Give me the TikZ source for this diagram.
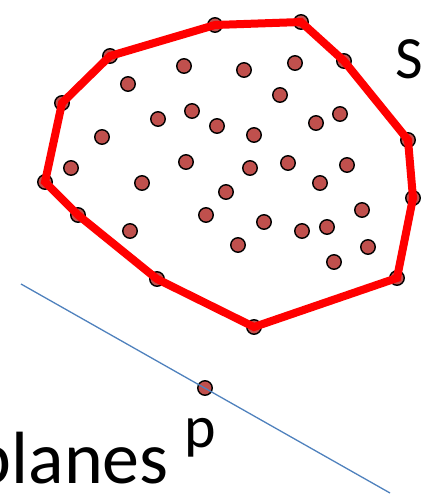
\documentclass[tikz,border=0pt]{standalone}
\usepackage{fontspec}
\setmainfont{Carlito}
\usetikzlibrary{calc}
\definecolor{dotred}{RGB}{192,80,77}
\definecolor{lineblue}{RGB}{79,129,189}
\tikzset{
  pt/.style={circle, draw=black, line width=1.4pt, fill=dotred, minimum size=14.5pt, inner sep=0pt},
  hull/.style={draw=red, line width=8pt},
  sep/.style={draw=lineblue, line width=1.3pt},
  lbl/.style={font=\fontsize{60}{60}\selectfont, inner sep=0pt},
}
\begin{document}
\begin{tikzpicture}[x=1pt,y=-1pt]
\useasboundingbox (0,0) rectangle (439,498);
% points of S inside the hull
\foreach \x/\y in {128/84, 184/66, 244/70, 295/63, 280/95, 192/111, 158/119, 217/126,
  254/135, 316/123, 340/114, 102/137, 186/162, 250/168, 288/163, 347/165, 71/168,
  142/183, 226/192, 320/183, 206/215, 362/210, 130/231, 264/222, 302/231, 327/227,
  238/245, 368/247, 334/262}
  \node[pt] at (\x,\y) {};
% hull vertices
\foreach \n/\x/\y in {1/110/56, 2/215/25, 3/301/22, 4/344/61, 5/408/140, 6/413/198,
  7/397/278, 8/254/327, 9/157/279, 10/78/215, 11/45/182, 12/62/103}
  \node[pt] (h\n) at (\x,\y) {};
\draw[hull] (h1.center) -- (h2.center) -- (h3.center) -- (h4.center) -- (h5.center)
  -- (h6.center) -- (h7.center) -- (h8.center) -- (h9.center) -- (h10.center)
  -- (h11.center) -- (h12.center) -- cycle;
% query point and plane through it
\node[pt] (p) at (205,388) {};
\coordinate (l1) at (21,284);
\coordinate (l2) at (390,493);
\draw[sep] (l1) -- (l2);
\node[lbl, anchor=base west] (s) at (395,78) {S};
\node[lbl, anchor=base west] (plbl) at (184,447) {p};
\node[lbl, font=\fontsize{74}{74}\selectfont, anchor=base east] (planes) at (169,483) {planes};
\end{tikzpicture}
\end{document}
